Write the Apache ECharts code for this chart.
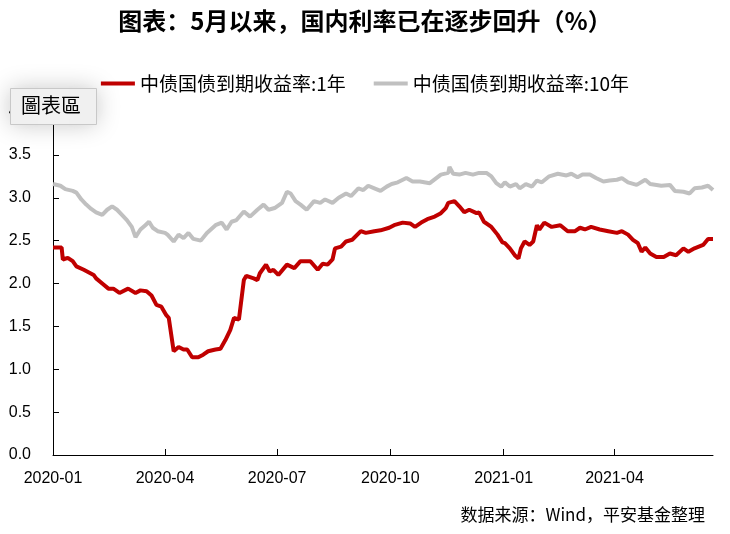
<!DOCTYPE html>
<html>
<head>
<meta charset="utf-8">
<script src="https://cdn.jsdelivr.net/npm/echarts@6/dist/echarts.min.js"></script>
<style>
html,body{margin:0;padding:0;background:#fff;}
#chart{width:730px;height:534px;}
</style>
</head>
<body>
<div id="chart"></div>
<script>
const titleText = '图表：5月以来，国内利率已在逐步回升（%）';
const sourceText = '数据来源：Wind，平安基金整理';
const seriesNames = ['中债国债到期收益率:1年', '中债国债到期收益率:10年'];
const xTickLabels = ['2020-01', '2020-04', '2020-07', '2020-10', '2021-01', '2021-04'];
const yTickValues = [0, 0.5, 1, 1.5, 2, 2.5, 3, 3.5, 4];

const dates1Y = ['2020-01-01','2020-01-08','2020-01-09','2020-01-13','2020-01-17','2020-01-20','2020-01-26','2020-02-03','2020-02-05','2020-02-10','2020-02-15','2020-02-19','2020-02-24','2020-03-02','2020-03-08','2020-03-12','2020-03-17','2020-03-21','2020-03-25','2020-03-29','2020-04-02','2020-04-04','2020-04-08','2020-04-12','2020-04-16','2020-04-19','2020-04-23','2020-04-28','2020-05-02','2020-05-06','2020-05-12','2020-05-16','2020-05-20','2020-05-24','2020-05-27','2020-05-31','2020-06-04','2020-06-06','2020-06-12','2020-06-15','2020-06-17','2020-06-22','2020-06-25','2020-06-28','2020-07-02','2020-07-09','2020-07-15','2020-07-20','2020-07-28','2020-08-03','2020-08-07','2020-08-11','2020-08-15','2020-08-17','2020-08-22','2020-08-26','2020-08-31','2020-09-07','2020-09-11','2020-09-18','2020-09-23','2020-09-30','2020-10-04','2020-10-11','2020-10-17','2020-10-21','2020-10-26','2020-10-31','2020-11-06','2020-11-11','2020-11-15','2020-11-17','2020-11-22','2020-11-26','2020-11-30','2020-12-04','2020-12-10','2020-12-12','2020-12-16','2020-12-22','2020-12-27','2020-12-31','2021-01-02','2021-01-06','2021-01-10','2021-01-13','2021-01-15','2021-01-18','2021-01-22','2021-01-25','2021-01-28','2021-01-30','2021-02-03','2021-02-09','2021-02-16','2021-02-22','2021-02-28','2021-03-04','2021-03-08','2021-03-13','2021-03-20','2021-03-27','2021-04-03','2021-04-07','2021-04-12','2021-04-16','2021-04-20','2021-04-23','2021-04-26','2021-04-30','2021-05-05','2021-05-11','2021-05-16','2021-05-21','2021-05-27','2021-05-31','2021-06-05','2021-06-12','2021-06-16','2021-06-20'];
const values1Y = [2.42,2.42,2.28,2.30,2.26,2.20,2.16,2.10,2.06,2.00,1.94,1.94,1.89,1.94,1.89,1.92,1.91,1.86,1.75,1.73,1.63,1.60,1.21,1.26,1.23,1.23,1.14,1.14,1.17,1.21,1.23,1.24,1.34,1.46,1.60,1.58,2.04,2.09,2.06,2.04,2.12,2.22,2.14,2.16,2.10,2.22,2.18,2.26,2.26,2.16,2.23,2.22,2.28,2.41,2.43,2.49,2.51,2.61,2.59,2.61,2.62,2.65,2.68,2.71,2.70,2.66,2.71,2.75,2.78,2.82,2.88,2.94,2.96,2.90,2.83,2.86,2.82,2.83,2.72,2.66,2.57,2.48,2.47,2.41,2.33,2.29,2.41,2.49,2.45,2.49,2.68,2.63,2.71,2.66,2.68,2.61,2.61,2.65,2.63,2.66,2.63,2.61,2.59,2.61,2.57,2.51,2.47,2.37,2.42,2.35,2.31,2.31,2.35,2.33,2.41,2.37,2.41,2.45,2.52,2.52];

const dates10Y = ['2020-01-01','2020-01-07','2020-01-11','2020-01-17','2020-01-20','2020-01-24','2020-01-28','2020-02-01','2020-02-05','2020-02-10','2020-02-14','2020-02-18','2020-02-22','2020-02-26','2020-03-01','2020-03-05','2020-03-08','2020-03-12','2020-03-16','2020-03-19','2020-03-22','2020-03-26','2020-04-01','2020-04-03','2020-04-08','2020-04-12','2020-04-16','2020-04-20','2020-04-24','2020-04-30','2020-05-05','2020-05-12','2020-05-17','2020-05-21','2020-05-25','2020-05-29','2020-06-04','2020-06-09','2020-06-15','2020-06-20','2020-06-24','2020-06-29','2020-07-05','2020-07-09','2020-07-12','2020-07-16','2020-07-20','2020-07-25','2020-07-31','2020-08-05','2020-08-09','2020-08-15','2020-08-20','2020-08-26','2020-08-30','2020-09-05','2020-09-09','2020-09-13','2020-09-18','2020-09-23','2020-09-28','2020-10-02','2020-10-07','2020-10-14','2020-10-19','2020-10-25','2020-11-02','2020-11-11','2020-11-17','2020-11-18','2020-11-21','2020-11-26','2020-12-01','2020-12-07','2020-12-12','2020-12-18','2020-12-22','2020-12-26','2020-12-30','2021-01-02','2021-01-06','2021-01-11','2021-01-14','2021-01-19','2021-01-24','2021-01-28','2021-02-01','2021-02-07','2021-02-14','2021-02-21','2021-02-25','2021-03-02','2021-03-06','2021-03-12','2021-03-17','2021-03-23','2021-03-28','2021-04-03','2021-04-07','2021-04-12','2021-04-19','2021-04-26','2021-04-30','2021-05-09','2021-05-16','2021-05-20','2021-05-27','2021-06-01','2021-06-05','2021-06-11','2021-06-16','2021-06-20'];
const values10Y = [3.16,3.14,3.10,3.08,3.06,2.98,2.92,2.87,2.83,2.80,2.86,2.90,2.86,2.80,2.74,2.66,2.54,2.63,2.68,2.72,2.65,2.61,2.59,2.57,2.49,2.57,2.53,2.59,2.52,2.50,2.59,2.68,2.71,2.63,2.72,2.74,2.84,2.78,2.86,2.92,2.86,2.88,2.94,3.07,3.05,2.96,2.92,2.86,2.96,2.94,2.98,2.94,3.00,3.05,3.02,3.11,3.09,3.14,3.11,3.08,3.13,3.16,3.18,3.23,3.19,3.19,3.17,3.27,3.29,3.36,3.28,3.27,3.29,3.27,3.29,3.29,3.25,3.17,3.13,3.18,3.13,3.16,3.11,3.16,3.13,3.20,3.18,3.25,3.28,3.26,3.28,3.24,3.27,3.27,3.23,3.19,3.20,3.21,3.23,3.18,3.15,3.21,3.16,3.14,3.15,3.08,3.07,3.05,3.11,3.12,3.14,3.09];

const xMin = '2020-01-01';
const xMax = '2021-06-20';

function monthStart(label) {
  const p = label.split('-');
  return Date.UTC(+p[0], +p[1] - 1, 1);
}
function parseDay(s) {
  const p = s.split('-');
  return Date.UTC(+p[0], +p[1] - 1, +p[2]);
}
function pad(n) { return n < 10 ? '0' + n : '' + n; }

const tickValues = xTickLabels.map(monthStart);
const labelByTick = {};
tickValues.forEach((t, i) => { labelByTick[t] = xTickLabels[i]; });
const data1Y = dates1Y.map((d, i) => [parseDay(d), values1Y[i]]);
const data10Y = dates10Y.map((d, i) => [parseDay(d), values10Y[i]]);

const chart = echarts.init(document.getElementById('chart'), null, {renderer: 'canvas'});
const font = '"Liberation Sans", Arial, sans-serif';
const cjk = '"Noto Sans CJK SC", sans-serif';

chart.setOption({
  animation: false,
  backgroundColor: '#fff',
  title: {
    text: titleText,
    left: 'center',
    top: 4,
    textStyle: {fontFamily: cjk, fontWeight: 'bold', fontSize: 24, color: '#000'}
  },
  legend: {
    top: 69,
    left: 'center',
    itemWidth: 34,
    itemHeight: 4,
    itemGap: 28,
    icon: 'rect',
    textStyle: {fontFamily: cjk, fontSize: 19, color: '#000'},
    data: seriesNames
  },
  grid: {left: 53, right: 17, top: 112, bottom: 79, containLabel: false},
  xAxis: {
    type: 'value',
    min: parseDay(xMin),
    max: parseDay(xMax),
    axisLine: {show: true, onZero: false, lineStyle: {color: '#000', width: 1}},
    axisTick: {show: true, inside: true, length: 6, lineStyle: {color: '#000', width: 1}, customValues: tickValues},
    axisLabel: {
      customValues: tickValues,
      fontFamily: font,
      fontSize: 16,
      color: '#000',
      margin: 16,
      formatter: function (v) {
        if (labelByTick[v]) return labelByTick[v];
        const d = new Date(v); return d.getUTCFullYear() + '-' + pad(d.getUTCMonth() + 1);
      }
    },
    splitLine: {show: false}
  },
  yAxis: {
    type: 'value',
    min: yTickValues[0],
    max: yTickValues[yTickValues.length - 1],
    interval: 0.5,
    axisLine: {show: true, lineStyle: {color: '#000', width: 1}},
    axisTick: {show: true, inside: true, length: 6, lineStyle: {color: '#000', width: 1}},
    axisLabel: {fontFamily: font, fontSize: 16, color: '#000', margin: 22, formatter: v => v.toFixed(1)},
    splitLine: {show: false}
  },
  series: [
    {name: seriesNames[1], type: 'line', data: data10Y, showSymbol: false, smooth: false,
     lineStyle: {color: '#c0c0c0', width: 4}, itemStyle: {color: '#c0c0c0'}, z: 2},
    {name: seriesNames[0], type: 'line', data: data1Y, showSymbol: false, smooth: false,
     lineStyle: {color: '#c00000', width: 4}, itemStyle: {color: '#c00000'}, z: 3}
  ],
  graphic: [
    {
      type: 'rect', left: 10, top: 88, zlevel: 1, z: 100,
      shape: {x: 0, y: 0, width: 86, height: 36},
      style: {fill: '#f2f2f2', stroke: '#c8c8c8', lineWidth: 1, shadowBlur: 24, shadowColor: 'rgba(0,0,0,0.22)'}
    },
    {
      type: 'text', left: 21, top: 95, zlevel: 1, z: 101,
      style: {text: '圖表區', fontFamily: '"Noto Sans CJK TC", sans-serif', fontSize: 20, fill: '#000'}
    },
    {
      type: 'text', right: 25, top: 506, z: 100,
      style: {text: sourceText, fontFamily: cjk, fontSize: 17, fill: '#000'}
    }
  ]
});
</script>
</body>
</html>
